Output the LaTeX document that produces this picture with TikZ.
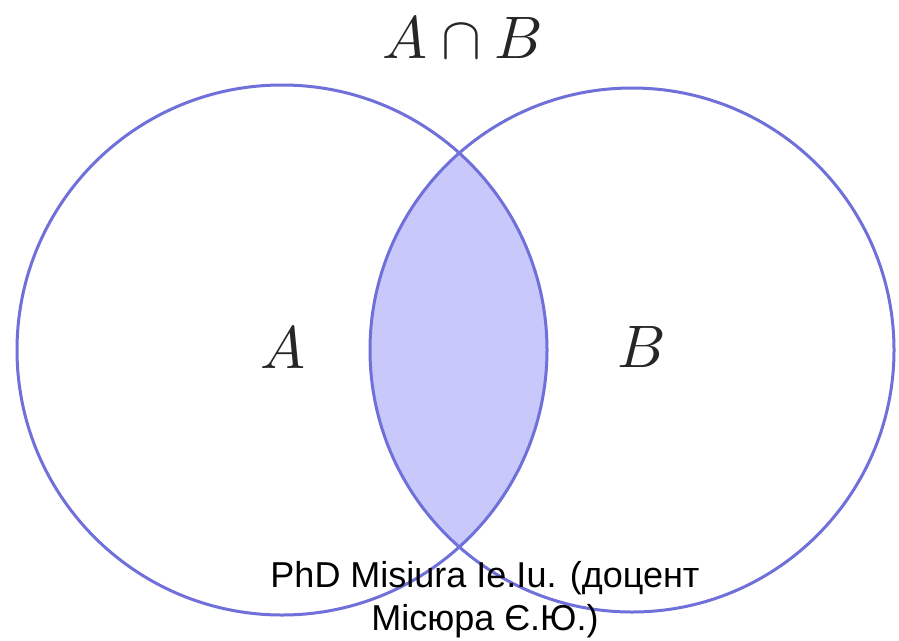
\documentclass[tikz,border=0pt]{standalone}
\usepackage{graphicx}
\usepackage{fontspec}
\newfontfamily\captionfont{Liberation Sans}
\definecolor{ringblue}{RGB}{112,112,218}
\definecolor{lensfill}{RGB}{200,200,250}
\newcommand{\biglabel}[1]{\scalebox{6}{$#1$}}
\begin{document}
\begin{tikzpicture}[x=1pt,y=-1pt,
  ring/.style={draw=ringblue,line width=3pt},
  setlabel/.style={inner sep=0pt,text=black!85},
  author/.style={inner sep=0pt,align=center,font=\captionfont\fontsize{36}{43}\selectfont}]
\useasboundingbox (0,0) rectangle (899,640);
\fill[white] (0,0) rectangle (899,640);
\coordinate (ca) at (282,350);
\coordinate (cb) at (632,350);
\begin{scope}
  \clip (ca) circle[radius=265];
  \fill[lensfill] (cb) circle[radius=262];
\end{scope}
\draw[ring] (ca) circle[radius=265];
\draw[ring] (cb) circle[radius=262];
\node[setlabel] (la) at (283,348) {\biglabel{A}};
\node[setlabel] (lb) at (642,347) {\biglabel{B}};
\node[setlabel] (lab) at (463,38) {\biglabel{A\cap B}};
\node[author,anchor=north] (auth) at (485,561) {PhD Misiura Ie.Iu. (доцент\\Місюра Є.Ю.)};
\end{tikzpicture}
\end{document}
